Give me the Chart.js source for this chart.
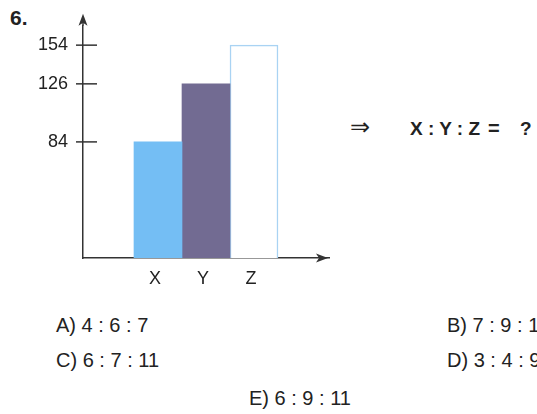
<!DOCTYPE html>
<html>
<head>
<meta charset="utf-8">
<script src="https://cdn.jsdelivr.net/npm/chart.js@4.4.1/dist/chart.umd.min.js"></script>
<style>
    body { margin: 0; width: 537px; height: 414px; overflow: hidden; background: #fff;
           font-family: "Liberation Sans", Arial, sans-serif; color: #222; position: relative; }
    .t { position: absolute; white-space: pre; line-height: 1; }
    #wrap { position: absolute; left: 0; top: 0; width: 340px; height: 300px; }
</style>
</head>
<body>
<div class="t" style="left:10px;top:7px;font-size:21px;font-weight:bold">6.</div>
<div id="wrap"><canvas id="barChart"></canvas></div>
<div class="t" style="left:350px;top:115px;font-size:24px;font-family:'DejaVu Sans'">⇒</div>
<div class="t" style="left:410px;top:119px;font-size:19px;font-weight:bold">X : Y : Z</div>
<div class="t" style="left:488px;top:118px;font-size:20px;font-weight:bold">=</div>
<div class="t" style="left:520px;top:119px;font-size:19px;font-weight:bold">?</div>
<div class="t" style="left:56px;top:315px;font-size:20px">A) 4 : 6 : 7</div>
<div class="t" style="left:447px;top:315px;font-size:20px">B) 7 : 9 : 1</div>
<div class="t" style="left:56px;top:350px;font-size:20px">C) 6 : 7 : 11</div>
<div class="t" style="left:447px;top:350px;font-size:20px">D) 3 : 4 : 9</div>
<div class="t" style="left:249px;top:388px;font-size:20px">E) 6 : 9 : 11</div>
<script>
var categories = ['X', 'Y', 'Z'];
var values = [84, 126, 154];
var yTicks = [84, 126, 154];

// styles
var fills = ['#74bef4', '#726b92', '#ffffff'];
var edges = ['#74bef4', '#726b92', '#a9d3f3'];
var ink = '#333';

function arrowHead(ctx, x, y, dir) {
    ctx.beginPath();
    if (dir === 'up') {
        ctx.moveTo(x, y);
        ctx.lineTo(x - 4.5, y + 12);
        ctx.lineTo(x, y + 9);
        ctx.lineTo(x + 4.5, y + 12);
    } else {
        ctx.moveTo(x, y);
        ctx.lineTo(x - 12, y - 4.5);
        ctx.lineTo(x - 9, y);
        ctx.lineTo(x - 12, y + 4.5);
    }
    ctx.closePath();
    ctx.fill();
}

var axisExtras = {
    id: 'axisExtras',
    afterDraw: function (chart) {
        var ctx = chart.ctx, area = chart.chartArea, yScale = chart.scales.y;
        ctx.save();
        ctx.strokeStyle = ink;
        ctx.fillStyle = ink;
        ctx.lineWidth = 1.5;

        // short ticks crossing the y axis
        yScale.ticks.forEach(function (t) {
            var py = yScale.getPixelForValue(t.value);
            ctx.beginPath();
            ctx.moveTo(area.left - 7, py);
            ctx.lineTo(area.left + 14, py);
            ctx.stroke();
        });

        // y axis runs a little past the plot, then the arrow heads
        ctx.beginPath();
        ctx.moveTo(area.left, area.top);
        ctx.lineTo(area.left, area.top - 6);
        ctx.stroke();
        arrowHead(ctx, area.left, area.top - 12, 'up');
        arrowHead(ctx, area.right - 1, area.bottom, 'right');

        // category names under the bars
        ctx.fillStyle = '#222';
        ctx.font = '18px "Liberation Sans", Arial, sans-serif';
        ctx.textAlign = 'center';
        ctx.textBaseline = 'alphabetic';
        chart.data.datasets.forEach(function (ds, i) {
            var bar = chart.getDatasetMeta(i).data[0];
            ctx.fillText(ds.label, bar.x - 3, area.bottom + 26);
        });
        ctx.restore();
    }
};

new Chart(document.getElementById('barChart'), {
    type: 'bar',
    data: {
        labels: [''],
        datasets: categories.map(function (c, i) {
            return {
                label: c,
                data: [values[i]],
                backgroundColor: fills[i],
                borderColor: edges[i],
                borderWidth: i === 2 ? 1.5 : 0,
                barThickness: 48
            };
        })
    },
    options: {
        responsive: true,
        maintainAspectRatio: false,
        animation: false,
        layout: { padding: { top: 8, right: 11, left: 0, bottom: 0 } },
        plugins: { legend: { display: false }, tooltip: { enabled: false } },
        scales: {
            x: {
                grid: { display: false, drawTicks: false },
                border: { display: true, color: ink, width: 1.5 },
                ticks: { display: false },
                afterFit: function (s) { s.height = 42; }
            },
            y: {
                min: 0,
                max: 168,
                grid: { display: false, drawTicks: false },
                border: { display: true, color: ink, width: 1.5 },
                ticks: {
                    padding: 15,
                    color: '#222',
                    font: { family: '"Liberation Sans", Arial, sans-serif', size: 18 }
                },
                afterBuildTicks: function (s) {
                    s.ticks = yTicks.map(function (v) { return { value: v }; });
                },
                afterFit: function (s) { s.width = 83; }
            }
        }
    },
    plugins: [axisExtras]
});
</script>
</body>
</html>
